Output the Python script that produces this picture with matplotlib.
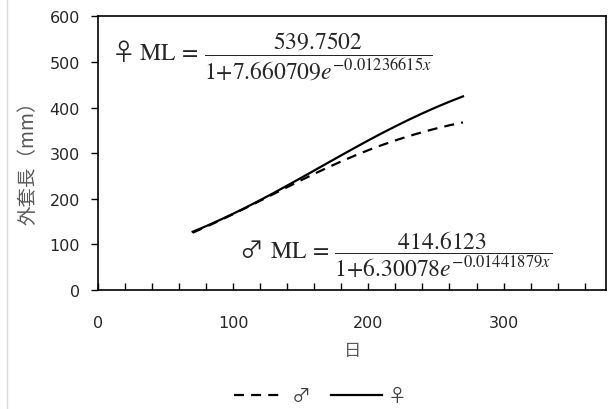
import matplotlib
matplotlib.use('Agg')
import matplotlib.pyplot as plt
from matplotlib.lines import Line2D
from matplotlib.ticker import MultipleLocator

plt.rcParams['font.family'] = ['Noto Sans CJK JP', 'DejaVu Sans']
plt.rcParams['mathtext.fontset'] = 'stix'

# 読み取った値（日, 外套長 mm）
days = [70, 80, 90, 100, 110, 120, 130, 140, 150, 160, 170,
        180, 190, 200, 210, 220, 230, 240, 250, 260, 270]
male_ml = [125.8, 138.8, 152.4, 166.5, 181.1, 195.9, 210.8, 225.7, 240.4, 254.8, 268.7,
           282.0, 294.7, 306.6, 317.7, 328.0, 337.4, 346.1, 353.9, 361.1, 367.4]
female_ml = [127.8, 140.2, 153.5, 167.4, 182.0, 197.2, 212.9, 229.1, 245.5, 262.1, 278.8,
             295.4, 311.9, 328.0, 343.7, 358.8, 373.4, 387.3, 400.4, 412.8, 424.4]

x_ticks = [0, 100, 200, 300]
y_ticks = [0, 100, 200, 300, 400, 500, 600]

female_eq = r'♀ $\mathrm{ML}\,=\,\dfrac{539.7502}{1{+}7.660709e^{-0.01236615x}}$'
male_eq = r'♂ $\,\mathrm{ML}\,=\,\dfrac{414.6123}{1{+}6.30078e^{-0.01441879x}}$'

fig = plt.figure(figsize=(6.13, 4.10), dpi=100)
ax = fig.add_axes([0.160, 0.290, 0.829, 0.668])

dash = (0, (4.5, 3.2))
ax.plot(days, male_ml, color='black', lw=1.6, ls=dash, label='♂')
ax.plot(days, female_ml, color='black', lw=1.6, ls='-', label='♀')

ax.set_xlim(0, 376)
ax.set_ylim(0, 600)
ax.set_xticks(x_ticks)
ax.set_yticks(y_ticks)
ax.xaxis.set_minor_locator(MultipleLocator(20))

for s in ax.spines.values():
    s.set_linewidth(1.2)
    s.set_color('black')

ax.tick_params(axis='x', which='both', direction='in', length=5, width=1,
               pad=18, colors='black')
ax.tick_params(axis='y', direction='out', length=5, width=1,
               pad=8, colors='black')
for lab in ax.get_xticklabels() + ax.get_yticklabels():
    lab.set_family('DejaVu Sans')
    lab.set_fontsize(11.5)
    lab.set_color('#262626')

ax.set_xlabel('日', fontsize=12.5, color='#595959', labelpad=8)
ax.set_ylabel('外套長（mm）', fontsize=14, color='#595959')
ax.yaxis.set_label_coords(-0.118, 0.485)

ax.text(9.5, 514, female_eq, fontsize=17, va='center', ha='left', color='#262626')
ax.text(104, 80, male_eq, fontsize=17, va='center', ha='left', color='#262626')

fig.legend(loc='lower center', bbox_to_anchor=(0.523, -0.034), ncol=2, frameon=False,
           fontsize=13.5, handlelength=2.7, handletextpad=0.35, columnspacing=1.1,
           labelcolor='#404040')

# 左端の薄い枠線
fig.add_artist(Line2D([0.012, 0.012], [0, 1], transform=fig.transFigure,
                      color='#d9d9d9', lw=1))

fig.savefig('out.png', dpi=100)
